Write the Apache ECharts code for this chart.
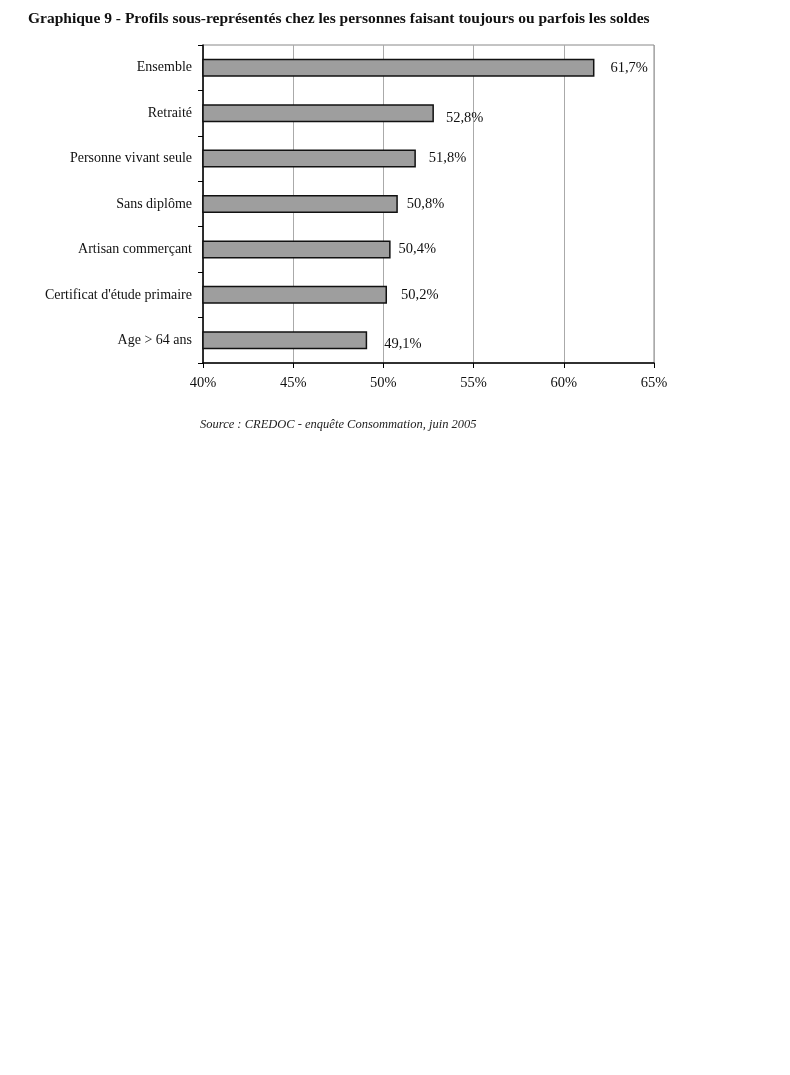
<!DOCTYPE html>
<html>
<head>
<meta charset="utf-8">
<script src="https://cdn.jsdelivr.net/npm/echarts@6/dist/echarts.min.js"></script>
<style>
  html, body { margin: 0; padding: 0; background: #fff; }
  #chart { width: 790px; height: 1075px; }
</style>
</head>
<body>
<div id="chart"></div>
<script>
var categories = [
  "Ensemble",
  "Retraité",
  "Personne vivant seule",
  "Sans diplôme",
  "Artisan commerçant",
  "Certificat d'étude primaire",
  "Age > 64 ans"
];
var values = [61.7, 52.8, 51.8, 50.8, 50.4, 50.2, 49.1];
var tickValues = [40, 45, 50, 55, 60, 65];

var myChart = echarts.init(document.getElementById("chart"));

// labels sit a little apart from the bars, like in the original
var labelOffsets = [[16, 0], [12, 5], [13, 0], [9, 0], [8, 0], [14, 0], [17, 4]];

var option = {
  backgroundColor: "#fff",
  title: [
    {
      text: "Graphique 9 - Profils sous-représentés chez les personnes faisant toujours ou parfois les soldes",
      left: 23,
      top: 6,
      textStyle: {
        fontFamily: "Liberation Serif",
        fontWeight: "bold",
        fontSize: 15.5,
        color: "#111"
      }
    },
    {
      text: "Source : CREDOC - enquête Consommation, juin 2005",
      left: 195,
      top: 413,
      textStyle: {
        fontFamily: "Liberation Serif",
        fontStyle: "italic",
        fontWeight: "normal",
        fontSize: 12.5,
        color: "#222"
      }
    }
  ],
  grid: {
    left: 203,
    right: 136,
    top: 45,
    bottom: 712,
    show: true,
    borderColor: "#888",
    borderWidth: 1
  },
  xAxis: {
    type: "value",
    min: 40,
    max: 65,
    interval: 5,
    axisLine: { show: true, lineStyle: { color: "#000", width: 1.5 } },
    axisTick: { show: true, length: 5, lineStyle: { color: "#000" } },
    axisLabel: {
      fontFamily: "Liberation Serif",
      fontSize: 14.5,
      color: "#111",
      margin: 13,
      formatter: function (v) {
        return tickValues.indexOf(v) >= 0 ? v + "%" : "";
      }
    },
    splitLine: { show: true, lineStyle: { color: "#aaa", width: 1 } }
  },
  yAxis: {
    type: "category",
    inverse: true,
    data: categories,
    axisLine: { show: true, lineStyle: { color: "#000", width: 1.5 } },
    axisTick: { show: true, length: 5, lineStyle: { color: "#000" } },
    axisLabel: {
      fontFamily: "Liberation Serif",
      fontSize: 14,
      color: "#111",
      margin: 11
    }
  },
  series: [
    {
      type: "bar",
      barWidth: 18,
      data: values.map(function (v, i) {
        return {
          value: v,
          label: { offset: labelOffsets[i] }
        };
      }),
      itemStyle: {
        color: "#9e9e9e",
        borderColor: "#111",
        borderWidth: 1.5
      },
      label: {
        show: true,
        position: "right",
        distance: 0,
        fontFamily: "Liberation Serif",
        fontSize: 14.5,
        color: "#111",
        formatter: function (p) {
          return p.value.toFixed(1).replace(".", ",") + "%";
        }
      },
      silent: true
    }
  ],
  animation: false
};
myChart.setOption(option);
</script>
</body>
</html>
